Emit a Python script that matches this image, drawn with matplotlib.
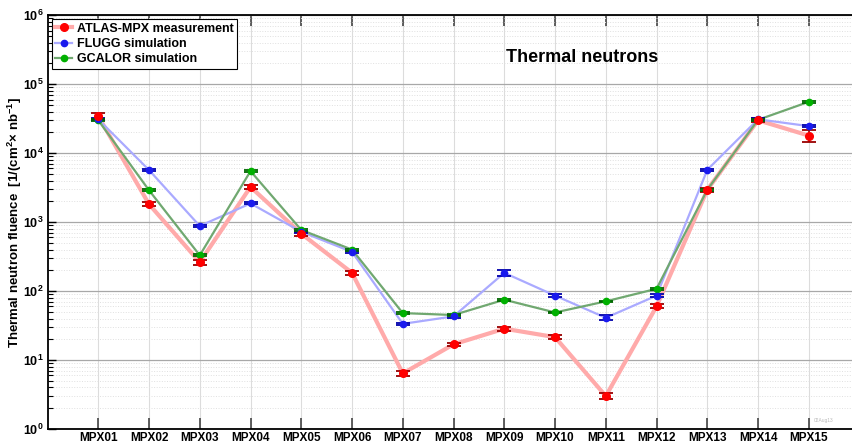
import numpy as np
import matplotlib.pyplot as plt
from matplotlib.ticker import LogLocator, FixedLocator, NullFormatter, FuncFormatter

plt.rcParams['font.family'] = ['Liberation Sans', 'DejaVu Sans']
plt.rcParams['font.weight'] = 'bold'
plt.rcParams['mathtext.fontset'] = 'custom'
plt.rcParams['mathtext.rm'] = 'Liberation Sans:bold'
plt.rcParams['mathtext.bf'] = 'Liberation Sans:bold'
plt.rcParams['mathtext.it'] = 'Liberation Sans:bold'

detectors = ['MPX01', 'MPX02', 'MPX03', 'MPX04', 'MPX05', 'MPX06', 'MPX07', 'MPX08',
             'MPX09', 'MPX10', 'MPX11', 'MPX12', 'MPX13', 'MPX14', 'MPX15']

# thermal neutron fluence per detector, 1/(cm^2 nb^-1)
atlas = [34500, 1820, 262, 3240, 680, 184, 6.4, 16.9, 28.5, 21.5, 3.0, 60, 2950, 30000, 18000]
atlas_err = [3500, 120, 20, 230, 45, 12, 0.45, 1.0, 1.7, 1.4, 0.3, 4, 180, 2000, 3500]

flugg = [31000, 5700, 880, 1870, 725, 370, 33.5, 43, 184, 86, 41, 86, 5750, 31000, 24700]
flugg_err = [1000, 200, 30, 60, 25, 15, 1.5, 2, 16, 5, 3.5, 4, 200, 1000, 900]

gcalor = [30000, 2900, 330, 5500, 770, 400, 48, 45, 75, 49, 71, 108, 2950, 30500, 55600]
gcalor_err = [900, 80, 10, 150, 20, 12, 1.2, 1.2, 2.5, 1.5, 2, 3, 80, 900, 2500]

x = np.arange(1, len(detectors) + 1)

fig = plt.figure(figsize=(8.53, 4.46), dpi=100)
ax = fig.add_axes([0.0557, 0.0381, 0.952, 0.9276])

series = [
    (atlas, atlas_err, 'ATLAS-MPX measurement', '#ffaaaa', 3.0, '#ff0000', '#990000', 5.5),
    (flugg, flugg_err, 'FLUGG simulation', '#aaaaff', 1.6, '#1a1aee', '#0000aa', 4.5),
    (gcalor, gcalor_err, 'GCALOR simulation', '#70a870', 1.6, '#00b000', '#006600', 4.5),
]

handles = []
for i, (vals, errs, label, lcol, lw, mcol, ecol, ms) in enumerate(series):
    ax.plot(x, vals, '-', color=lcol, lw=lw, zorder=2 + i * 0.1)
    ax.errorbar(x, vals, yerr=errs, fmt='none', ecolor=ecol, elinewidth=1.2,
                capsize=5, capthick=1.3, zorder=4)
    ax.plot(x, vals, 'o', color=mcol, ms=ms, mec=mcol, zorder=5 + (2 - i) * 0.1)
    h, = ax.plot([], [], '-o', color=lcol, lw=lw, mfc=mcol, mec=mcol, ms=ms)
    handles.append(h)

ax.set_yscale('log')
ax.set_ylim(1, 1e6)
ax.set_xlim(0, 16)

ax.xaxis.set_major_locator(FixedLocator(x))
ax.set_xticklabels(detectors, fontsize=8.5, fontweight='bold')
ax.yaxis.set_major_locator(LogLocator(base=10, numticks=10))
ax.yaxis.set_minor_locator(LogLocator(base=10, subs=np.arange(2, 10), numticks=20))
ax.yaxis.set_minor_formatter(NullFormatter())
ax.yaxis.set_major_formatter(FuncFormatter(lambda v, p: r'$10^{%d}$' % int(round(np.log10(v)))))
for t in ax.get_yticklabels():
    t.set_fontsize(9)

ax.tick_params(axis='x', which='major', direction='in', length=8, width=1.2, top=True, pad=2,
               colors='#444444', labelcolor='black')
ax.tick_params(axis='y', which='major', direction='in', length=6, width=1.0, pad=3)
ax.tick_params(axis='y', which='minor', direction='in', length=3.5, width=0.8)

ax.grid(True, axis='y', which='major', color='#a8a8a8', lw=0.9)
ax.grid(True, axis='y', which='minor', color='#e0e0e0', lw=0.7, ls=':')
ax.grid(True, axis='x', which='major', color='#dcdcdc', lw=0.8)
ax.set_axisbelow(True)

for s in ax.spines.values():
    s.set_linewidth(1.3)

ax.set_ylabel(r'Thermal neutron fluence  [1/(cm$^{2}$× nb$^{-1}$]', fontsize=9.5,
              fontweight='bold')
ax.yaxis.set_label_coords(-0.029, 0.5)

ax.text(0.658, 0.898, 'Thermal neutrons', transform=ax.transAxes, fontsize=13,
        fontweight='bold', ha='center', va='center')
ax.text(0.968, 0.015, '02Aug13', transform=ax.transAxes, fontsize=3.5,
        color='#bbbbbb', ha='right', va='bottom', fontweight='normal')

ax.legend(handles, [s[2] for s in series], loc='upper left', bbox_to_anchor=(0.002, 0.997),
          fontsize=9, frameon=True, fancybox=False, edgecolor='black', framealpha=1,
          handlelength=1.3, handletextpad=0.4, borderpad=0.3, labelspacing=0.25,
          borderaxespad=0.2).get_frame().set_linewidth(0.8)

fig.savefig('out.png', dpi=100)
